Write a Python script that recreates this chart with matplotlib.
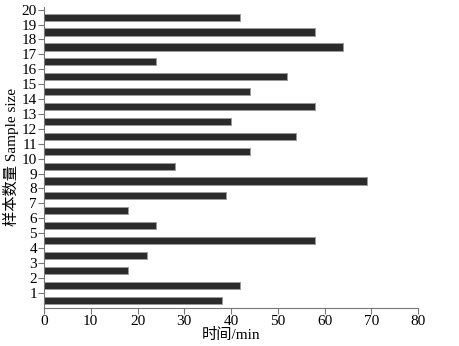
import matplotlib
matplotlib.use('Agg')
import matplotlib.pyplot as plt

# sample index 1..20 and time in minutes
samples = list(range(1, 21))
times = [38, 42, 18, 22, 58, 24, 18, 39, 69, 28,
         44, 54, 40, 58, 44, 52, 24, 64, 58, 42]
yticks = list(range(1, 21))
xticks = [0, 10, 20, 30, 40, 50, 60, 70, 80]

plt.rcParams['font.family'] = ['Liberation Serif', 'Noto Sans CJK SC']

fig = plt.figure(figsize=(4.6, 3.46), dpi=100)
ax = fig.add_axes([0.0957, 0.111, 0.813, 0.8696])

ax.barh([s - 0.5 for s in samples], times, height=0.48,
        color='#2b2b2b', edgecolor='#9a9a9a', linewidth=0.7)

ax.set_xlim(0, 80)
ax.set_ylim(0, 20.2)
ax.set_xticks(xticks)
ax.set_yticks(yticks)
ax.tick_params(direction='out', length=4, width=0.8, color='#777777',
               labelsize=11, pad=1)
for side in ['top', 'right']:
    ax.spines[side].set_visible(False)
for side in ['left', 'bottom']:
    ax.spines[side].set_color('#777777')
    ax.spines[side].set_linewidth(0.8)

ax.set_xlabel('时间/min', fontsize=11, labelpad=0)
ax.set_ylabel('样本数量 Sample size', fontsize=11)
ax.yaxis.set_label_coords(-0.066, 0.5)

fig.savefig('out.png', dpi=100)
